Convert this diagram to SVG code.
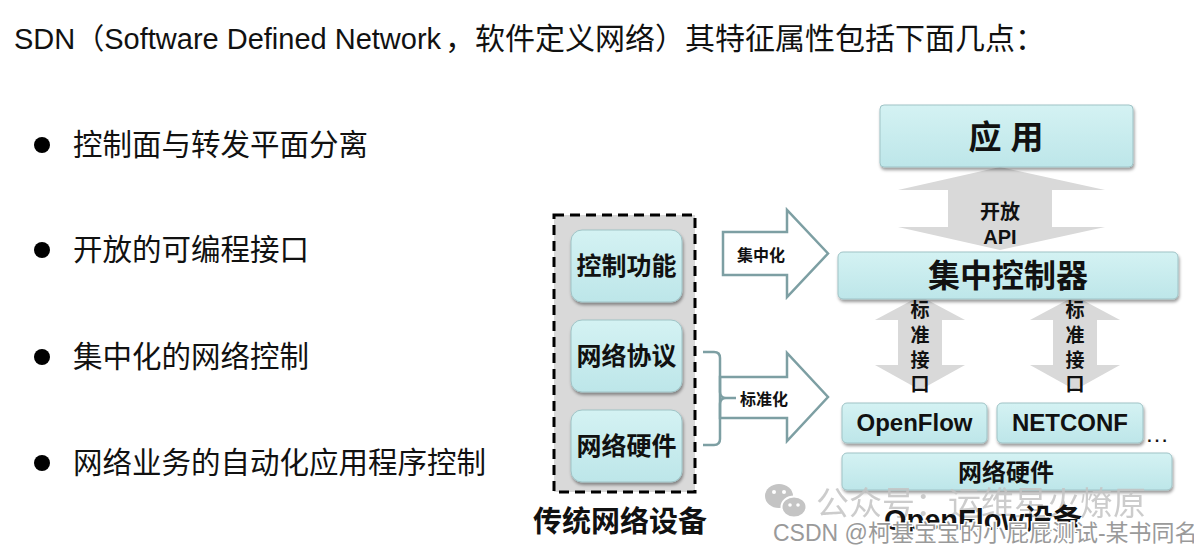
<svg xmlns="http://www.w3.org/2000/svg" width="1194" height="552" viewBox="0 0 1194 552">
<defs>
<linearGradient id="cyan" x1="0" y1="0" x2="0" y2="1">
<stop offset="0" stop-color="#d4f2f3"/>
<stop offset="1" stop-color="#bde6e9"/>
</linearGradient>
<filter id="sh" x="-10%" y="-20%" width="120%" height="150%">
<feDropShadow dx="1" dy="2.5" stdDeviation="1.5" flood-color="#000" flood-opacity="0.4"/>
</filter>
<style>
text{font-family:"Liberation Sans","Noto Sans CJK SC",sans-serif;fill:#111}
.t{font-size:29.5px}
.b{font-weight:bold;text-anchor:middle}
.box{fill:url(#cyan);stroke:#9fc3c6;stroke-width:1;filter:url(#sh)}
.blk{fill:#fff;stroke:#7d9fa3;stroke-width:2.5;stroke-linejoin:miter}
.gr{fill:#d9d9d9}
.wm{fill:#c4c4c4;font-size:33px;opacity:0.85}
.cs{fill:#9a9a9a;font-size:23px;stroke:#fff;stroke-width:3;paint-order:stroke}
</style>
</defs>
<rect width="1194" height="552" fill="#fff"/>

<g id="title">
<text x="14" y="49" style="font-size:29px">SDN（Software Defined Network<tspan x="445" style="font-size:30px">，软件定义网络）其特征属性包括下面几点：</tspan></text>
</g>

<g id="bullets">
<circle cx="42" cy="145" r="8" fill="#000"/>
<text class="t" x="73" y="155">控制面与转发平面分离</text>
<circle cx="42" cy="250" r="8" fill="#000"/>
<text class="t" x="73" y="260">开放的可编程接口</text>
<circle cx="42" cy="357" r="8" fill="#000"/>
<text class="t" x="73" y="367">集中化的网络控制</text>
<circle cx="42" cy="463" r="8" fill="#000"/>
<text class="t" x="73" y="473">网络业务的自动化应用程序控制</text>
</g>

<g id="traditional">
<rect x="554" y="215" width="141" height="277" fill="#d9d9d9" stroke="#000" stroke-width="3" stroke-dasharray="10,6"/>
<text class="b" x="620" y="532" style="font-size:29px">传统网络设备</text>
</g>
<g id="ctrl-func">
<rect class="box" x="571" y="230" width="111" height="72" rx="11"/>
<text class="b" x="626.5" y="275" style="font-size:25px">控制功能</text>
</g>
<g id="net-proto">
<rect class="box" x="571" y="320" width="111" height="72" rx="11"/>
<text class="b" x="626.5" y="365" style="font-size:25px">网络协议</text>
</g>
<g id="net-hw-left">
<rect class="box" x="571" y="410" width="111" height="72" rx="11"/>
<text class="b" x="626.5" y="455" style="font-size:25px">网络硬件</text>
</g>

<g id="connectors">
<polygon class="blk" points="723,232 787,232 787,210 828,253.5 787,297 787,275 723,275"/>
<text class="b" x="761" y="261" style="font-size:16px">集中化</text>
<polygon class="blk" points="720,377 787,377 787,353 828,397 787,441 787,418 720,418"/>
<path d="M703,352 H714 Q720,352 720,358 V392 Q720,398 726,398 H736 M726,398 Q720,398 720,404 V439 Q720,445 714,445 H703" fill="none" stroke="#7d9fa3" stroke-width="2.5"/>
<text class="b" x="764" y="405" style="font-size:16px">标准化</text>
<polygon class="gr" points="1000,167 1105,190 1052,190 1052,227 1105,227 1000,250 898,227 948,227 948,190 898,190"/>
<text class="b" x="1000" y="219" style="font-size:20px">开放</text>
<text class="b" x="1000" y="244" style="font-size:20px">API</text>
<polygon class="gr" points="920,296 965,320 942,320 942,365 965,365 920,390 875,365 898,365 898,320 875,320"/>
<polygon class="gr" points="1075,296 1120,320 1097,320 1097,365 1120,365 1075,390 1030,365 1053,365 1053,320 1030,320"/>
<text class="b" style="font-size:19px"><tspan x="920" y="317">标</tspan><tspan x="920" y="342">准</tspan><tspan x="920" y="367">接</tspan><tspan x="920" y="391">口</tspan></text>
<text class="b" style="font-size:19px"><tspan x="1075" y="317">标</tspan><tspan x="1075" y="342">准</tspan><tspan x="1075" y="367">接</tspan><tspan x="1075" y="391">口</tspan></text>
</g>

<g id="app">
<rect class="box" x="880" y="105" width="253" height="62" rx="4"/>
<text class="b" x="1006" y="149" style="font-size:33px">应 用</text>
</g>
<g id="controller">
<rect class="box" x="838" y="252" width="340" height="47" rx="5"/>
<text class="b" x="1008" y="287" style="font-size:32px">集中控制器</text>
</g>
<g id="openflow">
<rect class="box" x="842" y="403" width="145" height="40" rx="5"/>
<text class="b" x="914.5" y="431" style="font-size:24px">OpenFlow</text>
</g>
<g id="netconf">
<rect class="box" x="997" y="403" width="146" height="40" rx="5"/>
<text class="b" x="1070" y="431" style="font-size:24px">NETCONF</text>
</g>
<text x="1145" y="442" style="font-size:24px">…</text>
<g id="net-hw-right">
<rect class="box" x="842" y="453" width="330" height="37" rx="5"/>
<text class="b" x="1006" y="481" style="font-size:24px">网络硬件</text>
</g>

<g id="watermark1">
<ellipse cx="779" cy="496" rx="14" ry="12" fill="#c4c4c4"/>
<circle cx="774" cy="492" r="2" fill="#fff"/>
<circle cx="784" cy="492" r="2" fill="#fff"/>
<ellipse cx="794" cy="507" rx="12.5" ry="10.5" fill="#c4c4c4" stroke="#fff" stroke-width="2"/>
<circle cx="790" cy="505" r="1.8" fill="#fff"/>
<circle cx="798" cy="505" r="1.8" fill="#fff"/>
<text class="wm" x="816" y="515">公众号：运维星火燎原</text>
</g>
<g id="ofdev">
<text class="b" x="983" y="530" style="font-size:29px">OpenFlow设备</text>
</g>
<g id="watermark2">
<text class="cs" x="773" y="541">CSDN @柯基宝宝的小屁屁测试-某书同名</text>
</g>
</svg>
